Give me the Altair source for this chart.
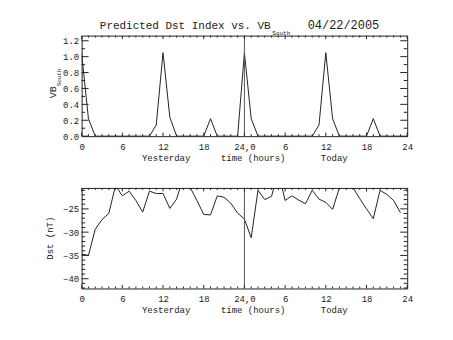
import altair as alt
import pandas as pd

# ---------------- data ----------------
hours = list(range(48))  # 0-23 yesterday, 24-47 today
vb_south = [1.04, 0.22, 0.0, 0.0, 0.0, 0.0, 0.0, 0.0, 0.0, 0.0, 0.0, 0.14,
            1.05, 0.24, 0.0, 0.0, 0.0, 0.0, 0.0, 0.22, 0.0, 0.0, 0.0, 0.0,
            1.05, 0.22, 0.0, 0.0, 0.0, 0.0, 0.0, 0.0, 0.0, 0.0, 0.0, 0.14,
            1.05, 0.22, 0.0, 0.0, 0.0, 0.0, 0.0, 0.22, 0.0, 0.0, 0.0, 0.0]
dst = [-34.7, -35.0, -29.4, -27.3, -26.0, -20.0, -22.2, -21.2, -23.2, -25.7, -21.2, -21.7,
       -21.7, -24.9, -22.9, -18.1, -20.4, -23.2, -26.2, -26.3, -22.2, -22.5, -23.8, -25.9,
       -27.2, -31.2, -21.0, -23.0, -22.3, -17.0, -23.2, -22.2, -23.1, -23.9, -21.0, -22.9,
       -23.6, -25.1, -20.5, -19.0, -20.4, -22.8, -25.0, -27.1, -21.0, -21.9, -23.2, -25.8]
day_boundary = [24]

x_major = [0, 6, 12, 18, 24, 30, 36, 42, 48]
x_minor = [h for h in range(49) if h % 6 != 0]
vb_major = [0.0, 0.2, 0.4, 0.6, 0.8, 1.0, 1.2]
vb_minor = [0.1, 0.3, 0.5, 0.7, 0.9, 1.1]
dst_major = [-40, -35, -30, -25]
dst_minor = [v for v in range(-42, -20) if v % 5 != 0]

title_main = "Predicted Dst Index vs. VB"
title_sub = "South"
title_date = "04/22/2005"
vb_title = "VB"
vb_title_sub = "South"
dst_title = "Dst (nT)"
x_titles = ["Yesterday", "time (hours)", "Today"]

# ---------------- layout constants ----------------
W, H = 327, 101
FONT = "Liberation Mono"
INK = "#222"

xs = alt.Scale(domain=[0, 48], nice=False, zero=False)
ys_vb = alt.Scale(domain=[0, 1.265], nice=False, zero=False)
ys_dst = alt.Scale(domain=[-42.1, -20.5], nice=False, zero=False)

x_label_expr = ("datum.value == 24 ? '24,0' : (datum.value > 24 ? '' + (datum.value - 24) : '' + datum.value)")


def x_axis():
    return alt.Axis(values=x_major, labelExpr=x_label_expr, ticks=False, tickSize=0,
                    domain=False, grid=False, labelPadding=6.5, labelFlush=False,
                    labelOverlap=False, title=None)


def y_axis(values, fmt):
    return alt.Axis(values=values, format=fmt, ticks=False, tickSize=0, domain=False,
                    grid=False, labelPadding=3, labelOverlap=False, title=None)


def one(text):
    return alt.Chart(pd.DataFrame({"t": [text]}))


def x_ticks(values, length):
    base = alt.Chart(pd.DataFrame({"v": values})).mark_rule(color=INK, strokeWidth=1)
    bottom = base.encode(x=alt.X("v:Q", scale=xs, axis=x_axis()), y=alt.value(H), y2=alt.value(H - length))
    top = base.encode(x=alt.X("v:Q", scale=xs, axis=x_axis()), y=alt.value(0), y2=alt.value(length))
    return [bottom, top]


def y_ticks(values, scale, length, yax):
    base = alt.Chart(pd.DataFrame({"v": values})).mark_rule(color=INK, strokeWidth=1)
    left = base.encode(y=alt.Y("v:Q", scale=scale, axis=yax), x=alt.value(0), x2=alt.value(length))
    right = base.encode(y=alt.Y("v:Q", scale=scale, axis=yax), x=alt.value(W), x2=alt.value(W - length))
    return [left, right]


def x_title_layers():
    centers = [84.8, 172.3, 253.7]
    out = []
    for txt, cx in zip(x_titles, centers):
        out.append(one(txt).mark_text(font=FONT, fontSize=9, color=INK, align="center",
                                      baseline="alphabetic")
                   .encode(text="t:N", x=alt.value(cx), y=alt.value(125.5)))
    return out


def midline():
    return alt.Chart(pd.DataFrame({"h": day_boundary})).mark_rule(color="#555", strokeWidth=1).encode(
        x=alt.X("h:Q", scale=xs, axis=x_axis()))


# ---------------- top panel: VB south ----------------
vb_yax = y_axis(vb_major, ".1f")
vb_df = pd.DataFrame({"hour": hours, "vb": vb_south})
vb_line = alt.Chart(vb_df).mark_line(color=INK, strokeWidth=1, clip=True).encode(
    x=alt.X("hour:Q", scale=xs, axis=x_axis()),
    y=alt.Y("vb:Q", scale=ys_vb, axis=vb_yax),
)

top_layers = [vb_line, midline()]
top_layers += x_ticks(x_major, 3.5) + x_ticks(x_minor, 2)
top_layers += y_ticks(vb_major, ys_vb, 7, vb_yax) + y_ticks(vb_minor, ys_vb, 3.5, vb_yax)
top_layers += x_title_layers()
top_layers += [
    one(title_main).mark_text(font=FONT, fontSize=11, color=INK, align="left", baseline="alphabetic")
    .encode(text="t:N", x=alt.value(18.3), y=alt.value(-6.7)),
    one(title_sub).mark_text(font=FONT, fontSize=6, color=INK, align="left", baseline="alphabetic")
    .encode(text="t:N", x=alt.value(191.5), y=alt.value(-0.6)),
    one(title_date).mark_text(font=FONT, fontSize=12, color=INK, align="left", baseline="alphabetic")
    .encode(text="t:N", x=alt.value(227), y=alt.value(-6.7)),
    one(vb_title).mark_text(font=FONT, fontSize=10, color=INK, align="right", baseline="alphabetic",
                            angle=270)
    .encode(text="t:N", x=alt.value(-26), y=alt.value(51)),
    one(vb_title_sub).mark_text(font=FONT, fontSize=6, color=INK, align="left", baseline="alphabetic",
                                angle=270)
    .encode(text="t:N", x=alt.value(-21), y=alt.value(51)),
    # invisible frame that fixes the page extent (left / top / right)
    one("").mark_rule(opacity=0).encode(x=alt.value(-81), x2=alt.value(W + 45), y=alt.value(-34)),
]
top = alt.layer(*top_layers).properties(width=W, height=H)

# ---------------- bottom panel: Dst ----------------
dst_yax = y_axis(dst_major, "d")
dst_df = pd.DataFrame({"hour": hours, "dst": dst})
dst_line = alt.Chart(dst_df).mark_line(color=INK, strokeWidth=1, clip=True).encode(
    x=alt.X("hour:Q", scale=xs, axis=x_axis()),
    y=alt.Y("dst:Q", scale=ys_dst, axis=dst_yax),
)

bot_layers = [dst_line, midline()]
bot_layers += x_ticks(x_major, 3.5) + x_ticks(x_minor, 2)
bot_layers += y_ticks(dst_major, ys_dst, 7, dst_yax) + y_ticks(dst_minor, ys_dst, 3.5, dst_yax)
bot_layers += x_title_layers()
bot_layers += [
    one(dst_title).mark_text(font=FONT, fontSize=9, color=INK, align="center", baseline="alphabetic",
                             angle=270)
    .encode(text="t:N", x=alt.value(-29), y=alt.value(H / 2)),
    # invisible rule fixing the bottom page extent
    one("").mark_rule(opacity=0).encode(x=alt.value(0), x2=alt.value(1), y=alt.value(H + 52)),
]
bottom = alt.layer(*bot_layers).properties(width=W, height=H)

chart = alt.vconcat(top, bottom, spacing=52, bounds="flush", padding=0).configure_view(
    stroke=INK, strokeWidth=1
).configure_axis(
    labelFont=FONT, labelFontSize=9, labelColor=INK, grid=False
)

chart.save("out.html", embed_options={"renderer": "svg", "actions": False})
